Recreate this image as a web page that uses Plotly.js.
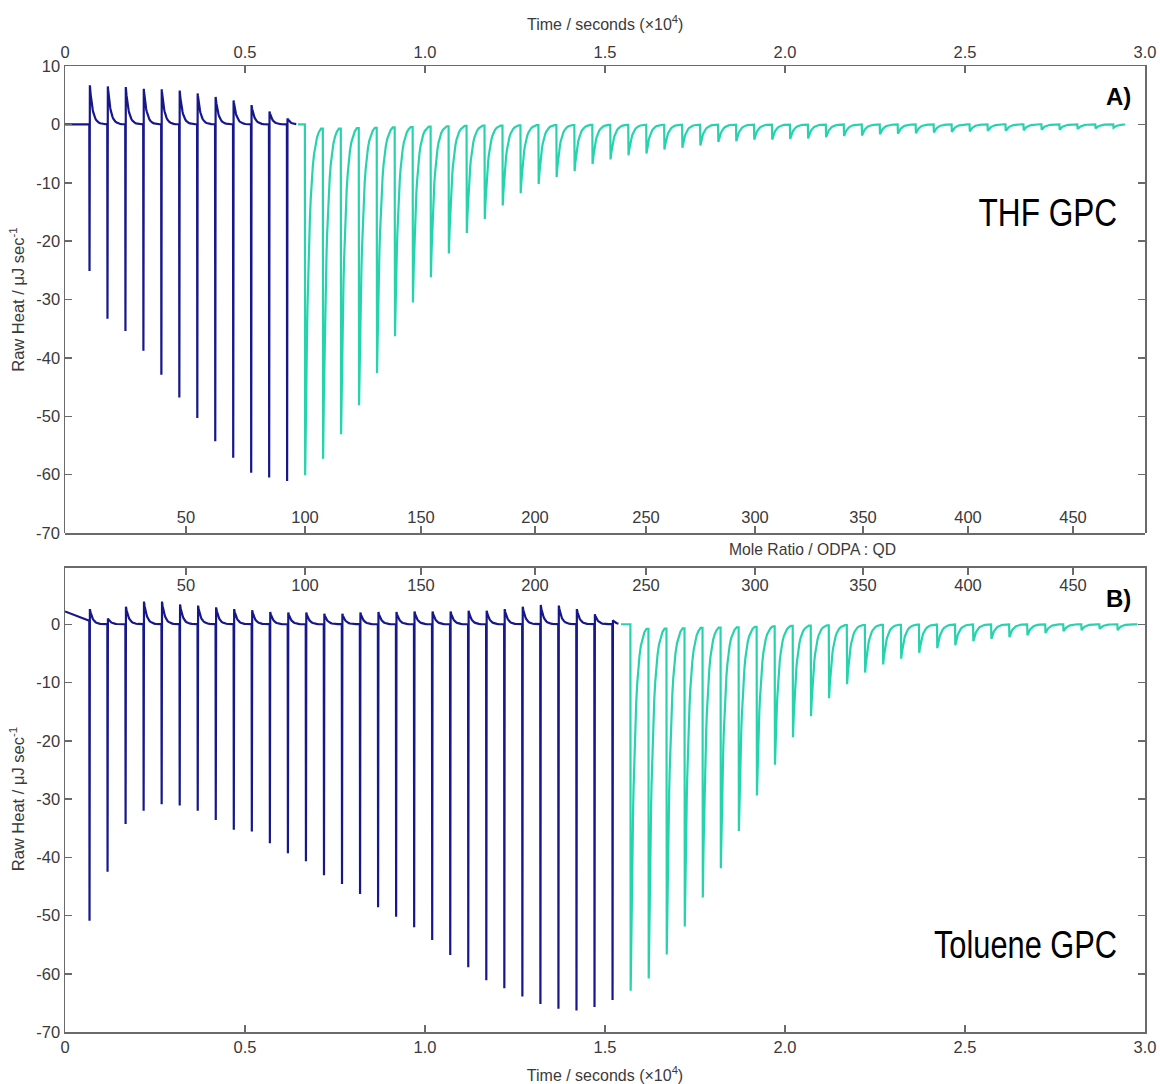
<!DOCTYPE html>
<html><head><meta charset="utf-8">
<script src="https://cdn.plot.ly/plotly-3.0.1.min.js"></script>
<style>html,body{margin:0;padding:0;background:#fff}#chart{width:1160px;height:1084px}</style>
</head><body><div id="chart"></div>
<script>
// ---------- Data ----------
// Injection protocol (seconds)
const thfInjStart = 675, thfInjInterval = 499;
const tolInjStart = 675, tolInjInterval = 501;

// Panel A: THF GPC  (µJ/s)
const thfPreT = [0, 660];
const thfPreV = [0, 0];
const thfDarkMin = [-25.1,-33.3,-35.4,-38.8,-42.9,-46.8,-50.3,-54.3,-57.1,-59.7,-60.5,-61.1];
const thfDarkMax = [6.7,6.5,6.4,6.1,6.0,5.8,5.3,4.7,4.1,3.3,2.2,1.0];
const thfTealMin = [-60.1,-57.3,-53.1,-48.1,-42.6,-36.3,-30.5,-26.2,-22.1,-18.6,-16.2,-13.9,-11.8,-10.2,-9.0,-8.0,-6.8,-6.0,-5.3,-5.0,-4.3,-4.0,-3.6,-3.0,-2.9,-2.6,
                    -2.6,-2.5,-2.4,-2.2,-2.0,-1.9,-1.7,-1.6,-1.5,-1.4,-1.3,-1.2,-1.1,-1.1,-1.0,-0.9,-0.9,-0.8,-0.7,-0.6];

// Panel B: Toluene GPC (µJ/s)
const tolPreT = [0, 660];
const tolPreV = [2.2, 0.6];
const tolDarkMin = [-50.9,-42.5,-34.3,-32.0,-30.9,-31.1,-32.0,-33.6,-35.3,-35.6,-37.6,-39.3,-40.7,-43.1,-44.6,-46.3,-48.6,-50.2,-52.0,-54.2,-56.8,-58.9,-61.1,-62.5,-63.9,-65.2,-66.0,-66.3,-65.7,-64.5];
const tolDarkMax = [2.6,1.0,3.0,3.9,3.9,3.4,3.2,2.9,2.6,2.4,2.1,2.0,2.0,1.8,1.8,2.0,2.1,2.1,2.2,2.2,2.2,2.3,2.3,2.6,3.0,3.3,3.2,2.6,1.7,0.7];
const tolTealMin = [-62.9,-60.8,-56.7,-51.9,-46.9,-41.9,-35.5,-29.4,-24.1,-19.4,-15.8,-12.7,-10.3,-8.3,-6.9,-5.9,-4.9,-4.1,-3.6,-2.9,-2.5,-2.2,-1.9,-1.5,-1.2,-1.0,-0.8,-1.0];

// Axis ticks
const timeTickVals = [0,5000,10000,15000,20000,25000,30000];
const timeTickText = ['0','0.5','1.0','1.5','2.0','2.5','3.0'];
const moleRatioLabels = ['50','100','150','200','250','300','350','400','450'];
const moleRatioTickTimes = [3361,6667,9889,13056,16139,19167,22167,25083,28000];
const heatTickVals = [-70,-60,-50,-40,-30,-20,-10,0,10];
const heatTickText = ['-70','-60','-50','-40','-30','-20','-10','0','10'];

// ---------- Build traces ----------
const DARK = '#17178c', TEAL = '#27d3ad';
const decaySteps = [0,3,6,10,15,21,28,36,45,55,67,80,95,112,132,155,182,212,246,285,330,380,440,500];

function injTimes(start, interval, first, count){
  const a=[]; for(let i=0;i<count;i++) a.push(start+interval*(first+i)); return a;
}
function buildDark(preT, preV, times, mins, maxs, tau, endT){
  const xs=[...preT], ys=[...preV];
  for(let i=0;i<times.length;i++){
    const t=times[i], next = i+1<times.length ? times[i+1] : endT;
    xs.push(t); ys.push(ys[ys.length-1]);
    xs.push(t+6); ys.push(mins[i]);
    const tp=t+16;
    for(const d of decaySteps){ if(tp+d>=next) break; xs.push(tp+d); ys.push(maxs[i]*Math.exp(-d/tau)); }
    if(i===times.length-1){ xs.push(endT); ys.push(maxs[i]*Math.exp(-(endT-tp)/tau)); }
  }
  return {xs, ys};
}
function buildTeal(times, mins, tau, lead, endT){
  const xs=[times[0]-lead], ys=[0];
  for(let i=0;i<times.length;i++){
    const t=times[i], next = i+1<times.length ? times[i+1] : endT;
    xs.push(t); ys.push(ys[ys.length-1]);
    const tp=t+8;
    for(const d of decaySteps){ if(tp+d>=next) break; xs.push(tp+d); ys.push(mins[i]*Math.exp(-d/tau)); }
    if(i===times.length-1){ xs.push(endT); ys.push(mins[i]*Math.exp(-(endT-tp)/tau)); }
  }
  return {xs, ys};
}

const thfDarkT = injTimes(thfInjStart, thfInjInterval, 0, thfDarkMin.length);
const thfTealT = injTimes(thfInjStart, thfInjInterval, thfDarkMin.length, thfTealMin.length);
const tolDarkT = injTimes(tolInjStart, tolInjInterval, 0, tolDarkMin.length);
const tolTealT = injTimes(tolInjStart, tolInjInterval, tolDarkMin.length, tolTealMin.length);

const tauDark = 80, tauTeal = 100;
const aD = buildDark(thfPreT, thfPreV, thfDarkT, thfDarkMin, thfDarkMax, tauDark, thfDarkT[thfDarkT.length-1]+260);
const aT = buildTeal(thfTealT, thfTealMin, tauTeal, 190, thfTealT[thfTealT.length-1]+330);
const bD = buildDark(tolPreT, tolPreV, tolDarkT, tolDarkMin, tolDarkMax, tauDark, tolDarkT[tolDarkT.length-1]+170);
const bT = buildTeal(tolTealT, tolTealMin, tauTeal, 260, tolTealT[tolTealT.length-1]+560);

const lw = 2.2;
const traces = [
  {x:aD.xs, y:aD.ys, xaxis:'x2', yaxis:'y2', type:'scatter', mode:'lines', line:{color:DARK,width:lw}, hoverinfo:'skip'},
  {x:aT.xs, y:aT.ys, xaxis:'x2', yaxis:'y2', type:'scatter', mode:'lines', line:{color:TEAL,width:lw}, hoverinfo:'skip'},
  {x:bD.xs, y:bD.ys, xaxis:'x', yaxis:'y', type:'scatter', mode:'lines', line:{color:DARK,width:lw}, hoverinfo:'skip'},
  {x:bT.xs, y:bT.ys, xaxis:'x', yaxis:'y', type:'scatter', mode:'lines', line:{color:TEAL,width:lw}, hoverinfo:'skip'},
  {x:[], y:[], xaxis:'x3', yaxis:'y2', type:'scatter', mode:'lines', hoverinfo:'skip'},
  {x:[], y:[], xaxis:'x4', yaxis:'y', type:'scatter', mode:'lines', hoverinfo:'skip'}
];

// ---------- Layout ----------
const W=1160, H=1084;
const px = v => v/W, py = v => 1 - v/H;
const xDom = [px(65), px(1145)];
const domA = [py(533), py(66)];
const domB = [py(1032), py(566)];
const AX = '#6a6a6a', TXT = '#3a3a3a';
const FONT = 'Liberation Sans, Arial, sans-serif';
const TIME_TITLE = 'Time / seconds (×10<sup>4</sup>)';

const baseX = {
  domain:xDom, range:[0,30000], showgrid:false, zeroline:false, showline:true,
  linecolor:AX, linewidth:1.5, ticks:'inside', ticklen:7, tickwidth:1.5, tickcolor:AX,
  tickfont:{family:FONT,size:16.5,color:TXT}
};
const baseY = {
  range:[-70,10], showgrid:false, zeroline:false, showline:true, mirror:'ticks',
  linecolor:AX, linewidth:1.5, ticks:'inside', ticklen:7, tickwidth:1.5, tickcolor:AX,
  tickvals:heatTickVals, ticktext:heatTickText,
  tickfont:{family:FONT,size:16.5,color:TXT},
  title:{text:'Raw Heat / μJ sec<sup>-1</sup>', font:{family:FONT,size:16.5,color:TXT}, standoff:7}
};

const layout = {
  width:W, height:H, margin:{l:0,r:0,t:0,b:0},
  paper_bgcolor:'#fff', plot_bgcolor:'#fff', showlegend:false,
  xaxis: Object.assign({}, baseX, {anchor:'y', side:'bottom', tickvals:timeTickVals, ticktext:timeTickText,
     title:{text:TIME_TITLE, font:{family:FONT,size:16,color:TXT}, standoff:15}}),
  xaxis2: Object.assign({}, baseX, {anchor:'y2', side:'top', tickvals:timeTickVals, ticktext:timeTickText}),
  xaxis3: Object.assign({}, baseX, {anchor:'free', position:py(533), side:'bottom', overlaying:'x2', tickvals:moleRatioTickTimes, ticktext:moleRatioLabels, ticklabelposition:'inside'}),
  xaxis4: Object.assign({}, baseX, {anchor:'free', position:py(566), side:'top', overlaying:'x', tickvals:moleRatioTickTimes, ticktext:moleRatioLabels, ticklabelposition:'inside', ticklabelstandoff:5}),
  yaxis: Object.assign({}, baseY, {domain:domB, anchor:'x'}),
  // the lowest label of panel A is drawn as an annotation (Plotly hides it next to the inside mole-ratio labels)
  yaxis2: Object.assign({}, baseY, {domain:domA, anchor:'x2', tickvals:heatTickVals.slice(1), ticktext:heatTickText.slice(1)}),
  annotations:[
    {text:TIME_TITLE, xref:'paper', yref:'paper', x:px(605), y:py(23), xanchor:'center', yanchor:'middle', showarrow:false, font:{family:FONT,size:16,color:TXT}},
    {text:heatTickText[0], xref:'paper', yref:'paper', x:px(62.5), y:py(533), xanchor:'right', yanchor:'middle', showarrow:false, font:{family:FONT,size:16.5,color:TXT}},
    {text:'<b>A)</b>', xref:'paper', yref:'paper', x:px(1133), y:py(96), xanchor:'right', yanchor:'middle', showarrow:false, font:{family:FONT,size:24,color:'#000'}},
    {text:'THF GPC', xref:'paper', yref:'paper', x:px(1119), y:py(212), xanchor:'right', yanchor:'middle', showarrow:false, font:{family:FONT,size:39,color:'#000'}},
    {text:'<b>B)</b>', xref:'paper', yref:'paper', x:px(1133), y:py(598), xanchor:'right', yanchor:'middle', showarrow:false, font:{family:FONT,size:24,color:'#000'}},
    {text:'Toluene GPC', xref:'paper', yref:'paper', x:px(1119), y:py(945), xanchor:'right', yanchor:'middle', showarrow:false, font:{family:FONT,size:38,color:'#000'}},
    {text:'Mole Ratio / ODPA : QD', xref:'paper', yref:'paper', x:px(812), y:py(549), xanchor:'center', yanchor:'middle', showarrow:false, font:{family:FONT,size:15.7,color:TXT}}
  ]
};

Plotly.newPlot('chart', traces, layout, {staticPlot:true, displayModeBar:false}).then(gd => {
  // the original uses a condensed face for the panel names
  gd.querySelectorAll('text.annotation-text').forEach(el => {
    const s = el.textContent;
    if (s === 'THF GPC' || s === 'Toluene GPC') {
      el.style.transformBox = 'fill-box';
      el.style.transformOrigin = 'right center';
      el.style.transform = 'scaleX(0.81)';
    }
  });
});
</script>
</body></html>
